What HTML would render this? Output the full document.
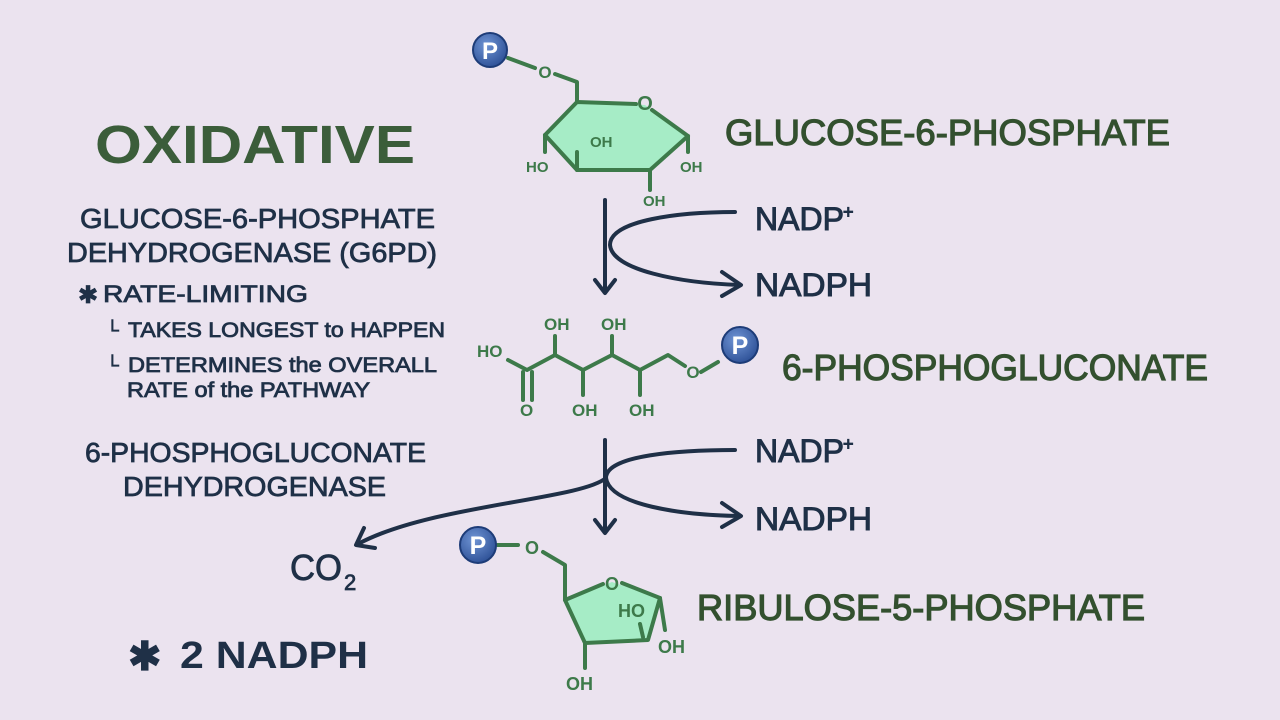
<!DOCTYPE html>
<html><head><meta charset="utf-8"><style>
html,body{margin:0;padding:0;background:#ebe3ef;}
svg{display:block}
text{font-family:"Liberation Sans",sans-serif;}
</style></head><body>
<svg width="1280" height="720" viewBox="0 0 1280 720" xmlns="http://www.w3.org/2000/svg">
<rect width="1280" height="720" fill="#ebe3ef"/>
<defs>
<radialGradient id="pg" cx="0.4" cy="0.35" r="0.7"><stop offset="0" stop-color="#6f94d4"/><stop offset="1" stop-color="#2c4f95"/></radialGradient>
</defs>

<!-- left texts -->
<text x="95" y="163" font-size="54" font-weight="bold" fill="#3b5d3a" textLength="320" lengthAdjust="spacingAndGlyphs">OXIDATIVE</text>
<g fill="#1f3047" stroke="#1f3047" stroke-width="0.8">
<text x="80" y="228" font-size="28" textLength="355" lengthAdjust="spacingAndGlyphs">GLUCOSE-6-PHOSPHATE</text>
<text x="67" y="262" font-size="28" textLength="370" lengthAdjust="spacingAndGlyphs">DEHYDROGENASE (G6PD)</text>
<text x="78" y="303" font-size="24">✱</text>
<text x="103" y="302" font-size="24" textLength="205" lengthAdjust="spacingAndGlyphs">RATE-LIMITING</text>
<text x="106" y="336" font-size="18">└</text>
<text x="128" y="337" font-size="21" textLength="317" lengthAdjust="spacingAndGlyphs">TAKES LONGEST to HAPPEN</text>
<text x="106" y="371" font-size="18">└</text>
<text x="128" y="372" font-size="21" textLength="309" lengthAdjust="spacingAndGlyphs">DETERMINES the OVERALL</text>
<text x="127" y="397" font-size="21" textLength="243" lengthAdjust="spacingAndGlyphs">RATE of the PATHWAY</text>
<text x="85" y="462" font-size="28" textLength="341" lengthAdjust="spacingAndGlyphs">6-PHOSPHOGLUCONATE</text>
<text x="123" y="496" font-size="28" textLength="263" lengthAdjust="spacingAndGlyphs">DEHYDROGENASE</text>
<text x="290" y="580" font-size="36" textLength="52" lengthAdjust="spacingAndGlyphs">CO</text>
<text x="344" y="590" font-size="22">2</text>
</g>
<g fill="#1f3047">
<text x="128" y="670" font-size="40" font-weight="bold">✱</text>
<text x="180" y="668" font-size="38" font-weight="bold" textLength="188" lengthAdjust="spacingAndGlyphs">2 NADPH</text>
</g>

<!-- right labels -->
<g fill="#33502f" stroke="#33502f" stroke-width="1.2">
<text x="725" y="145" font-size="36" textLength="445" lengthAdjust="spacingAndGlyphs">GLUCOSE-6-PHOSPHATE</text>
<text x="782" y="380" font-size="36" textLength="426" lengthAdjust="spacingAndGlyphs">6-PHOSPHOGLUCONATE</text>
<text x="697" y="620" font-size="36" textLength="448" lengthAdjust="spacingAndGlyphs">RIBULOSE-5-PHOSPHATE</text>
</g>
<g fill="#1f3047" stroke="#1f3047" stroke-width="1">
<text x="755" y="230" font-size="32">NADP</text><text x="843" y="218" font-size="18">+</text>
<text x="755" y="296" font-size="32" textLength="117" lengthAdjust="spacingAndGlyphs">NADPH</text>
<text x="755" y="462" font-size="32">NADP</text><text x="843" y="450" font-size="18">+</text>
<text x="755" y="530" font-size="32" textLength="117" lengthAdjust="spacingAndGlyphs">NADPH</text>
</g>

<!-- arrows -->
<g stroke="#1f3047" stroke-width="4" fill="none" stroke-linecap="round" stroke-linejoin="round">
<path d="M605 200 L605 292"/><path d="M595 280 L605 293 L615 280"/>
<path d="M735 212 C680 212 610 220 610 245 C612 270 680 283 740 285"/><path d="M722 272 L741 285 L722 296"/>
<path d="M605 440 L605 532"/><path d="M595 520 L605 533 L615 520"/>
<path d="M735 450 C680 450 606 455 606 478 C610 505 680 515 740 516"/><path d="M722 503 L741 516 L722 527"/>
<path d="M606 478 C580 500 430 505 358 544"/><path d="M364 528 L356 545 L375 548"/>
</g>

<!-- glucose -->
<polygon points="577,102 645,105 688,136 650,170 577,170 545,135" fill="#a6ecc6"/>
<g stroke="#3d7a4a" stroke-width="4" stroke-linejoin="round" stroke-linecap="round" fill="none">
<path d="M636 104 L577 102 L545 135 L577 170 L650 170 L688 136 L652 110"/>
<path d="M577 102 L577 82 L555 74 M535 68 L508 58"/>
<path d="M545 135 L545 152 M577 170 L577 152 M650 170 L650 190 M688 136 L688 152"/>
</g>
<g fill="#3d7a4a" font-size="15" font-weight="bold">
<text x="645" y="110" font-size="20" text-anchor="middle">O</text>
<text x="545" y="78" font-size="17" text-anchor="middle">O</text>
<text x="590" y="147">OH</text>
<text x="526" y="172">HO</text>
<text x="680" y="172">OH</text>
<text x="643" y="206">OH</text>
</g>
<circle cx="490" cy="50" r="17" fill="url(#pg)" stroke="#1d3c78" stroke-width="2"/>
<text x="490" y="59" font-size="24" font-weight="bold" fill="#fff" text-anchor="middle">P</text>

<!-- 6-phosphogluconate -->
<g stroke="#3d7a4a" stroke-width="4" fill="none" stroke-linejoin="round" stroke-linecap="round">
<path d="M508 360 L527 370 L555 355 L583 370 L612 355 L640 370 L668 355 L685 366"/>
<path d="M701 372 L718 362"/>
<path d="M523 372 L523 400 M532 372 L532 400"/>
<path d="M555 355 L555 336 M612 355 L612 336 M583 370 L583 395 M640 370 L640 395"/>
</g>
<g fill="#3d7a4a" font-weight="bold" font-size="17">
<text x="477" y="357">HO</text>
<text x="544" y="330">OH</text>
<text x="601" y="330">OH</text>
<text x="520" y="416">O</text>
<text x="572" y="416">OH</text>
<text x="629" y="416">OH</text>
<text x="693" y="378" text-anchor="middle">O</text>
</g>
<circle cx="740" cy="345" r="18" fill="url(#pg)" stroke="#1d3c78" stroke-width="2"/>
<text x="740" y="354" font-size="25" font-weight="bold" fill="#fff" text-anchor="middle">P</text>

<!-- ribulose -->
<polygon points="565,600 612,582 660,598 648,640 585,643" fill="#a6ecc6"/>
<g stroke="#3d7a4a" stroke-width="4" fill="none" stroke-linejoin="round" stroke-linecap="round">
<path d="M603 584 L565 600 L585 643 L648 640 L660 598 L622 583"/>
<path d="M497 545 L518 545 M543 552 L565 565 L565 600"/>
<path d="M660 598 L665 630 M640 624 L643 637 M585 643 L585 668"/>
</g>
<g fill="#3d7a4a" font-weight="bold" font-size="18">
<text x="612" y="590" text-anchor="middle">O</text>
<text x="532" y="554" text-anchor="middle">O</text>
<text x="618" y="617">HO</text>
<text x="658" y="653">OH</text>
<text x="566" y="690">OH</text>
</g>
<circle cx="478" cy="545" r="18" fill="url(#pg)" stroke="#1d3c78" stroke-width="2"/>
<text x="478" y="554" font-size="25" font-weight="bold" fill="#fff" text-anchor="middle">P</text>
</svg>
</body></html>
